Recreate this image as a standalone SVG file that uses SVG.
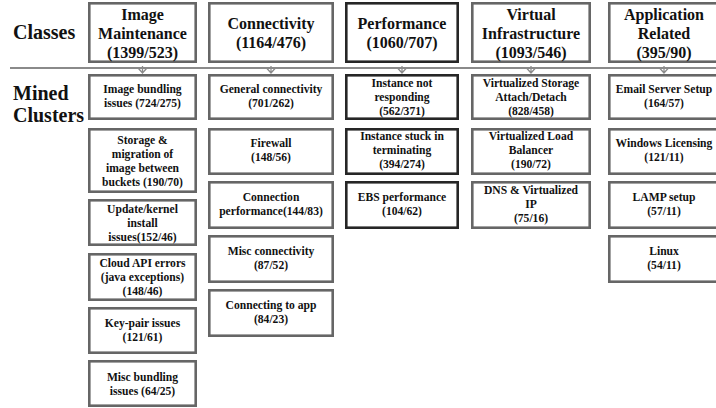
<svg xmlns="http://www.w3.org/2000/svg" width="716" height="408" viewBox="0 0 716 408">
<defs>
<style>
.bx{fill:#fff;stroke:#666;stroke-width:2.6}
.dk{fill:#fff;stroke:#262626;stroke-width:2.6}
.hd{font-family:"Liberation Serif","Times New Roman",serif;font-weight:bold;font-size:16px;fill:#111;text-anchor:middle}
.cl{font-family:"Liberation Serif","Times New Roman",serif;font-weight:bold;font-size:11.6px;fill:#111;text-anchor:middle}
.lb{font-family:"Liberation Serif","Times New Roman",serif;font-weight:bold;font-size:20px;fill:#111}
.ln{fill:none;stroke:#8a8a8a;stroke-width:1.8}
.ar{fill:none;stroke:#8a8a8a;stroke-width:1.3}
</style>
</defs>
<rect width="716" height="408" fill="#fff"/>
<g id="labels">
<text class="lb" x="13" y="39">Classes</text>
<text class="lb" x="13" y="100">Mined</text>
<text class="lb" x="13" y="122">Clusters</text>
</g>
<g id="connectors">
<line class="ln" x1="10" y1="68" x2="716" y2="68"/>
<path class="ar" d="M142.5,66V73M138.5,68.5L142.5,73L146.5,68.5"/>
<path class="ar" d="M271,66V73M267,68.5L271,73L275,68.5"/>
<path class="ar" d="M402,66V73M398,68.5L402,73L406,68.5"/>
<path class="ar" d="M531,66V73M527,68.5L531,73L535,68.5"/>
<path class="ar" d="M664,66V73M660,68.5L664,73L668,68.5"/>
</g>
<g id="class-image-maintenance">
<rect class="bx" x="89.3" y="3.3" width="106.4" height="58.4"/>
<text class="hd" x="142.5" y="20">Image</text>
<text class="hd" x="142.5" y="39">Maintenance</text>
<text class="hd" x="142.5" y="58">(1399/523)</text>
</g>
<g id="class-connectivity">
<rect class="bx" x="209.3" y="3.3" width="123.4" height="58.4"/>
<text class="hd" x="271" y="28.5">Connectivity</text>
<text class="hd" x="271" y="47.5">(1164/476)</text>
</g>
<g id="class-performance">
<rect class="dk" x="346.3" y="3.3" width="111.4" height="58.4"/>
<text class="hd" x="402" y="28.5">Performance</text>
<text class="hd" x="402" y="47.5">(1060/707)</text>
</g>
<g id="class-virtual-infrastructure">
<rect class="bx" x="472.3" y="3.3" width="117.4" height="58.4"/>
<text class="hd" x="531" y="20">Virtual</text>
<text class="hd" x="531" y="39">Infrastructure</text>
<text class="hd" x="531" y="58">(1093/546)</text>
</g>
<g id="class-application-related">
<rect class="bx" x="609.3" y="3.3" width="112" height="58.4"/>
<text class="hd" x="664" y="20">Application</text>
<text class="hd" x="664" y="39">Related</text>
<text class="hd" x="664" y="58">(395/90)</text>
</g>
<g id="c1-image-bundling">
<rect class="bx" x="89.3" y="75.3" width="106.4" height="43.4"/>
<text class="cl" x="142.5" y="93">Image bundling</text>
<text class="cl" x="142.5" y="107">issues (724/275)</text>
</g>
<g id="c1-storage-migration">
<rect class="bx" x="89.3" y="129.3" width="106.4" height="62.4"/>
<text class="cl" x="142.5" y="143.5">Storage &amp;</text>
<text class="cl" x="142.5" y="157.5">migration of</text>
<text class="cl" x="142.5" y="171.5">image between</text>
<text class="cl" x="142.5" y="185.5">buckets (190/70)</text>
</g>
<g id="c1-update-kernel">
<rect class="bx" x="89.3" y="200.3" width="106.4" height="44.4"/>
<text class="cl" x="142.5" y="212.5">Update/kernel</text>
<text class="cl" x="142.5" y="226.5">install</text>
<text class="cl" x="142.5" y="240.5">issues(152/46)</text>
</g>
<g id="c1-cloud-api">
<rect class="bx" x="89.3" y="254.3" width="106.4" height="45.4"/>
<text class="cl" x="142.5" y="267">Cloud API errors</text>
<text class="cl" x="142.5" y="281">(java exceptions)</text>
<text class="cl" x="142.5" y="295">(148/46)</text>
</g>
<g id="c1-key-pair">
<rect class="bx" x="89.3" y="308.3" width="106.4" height="44.4"/>
<text class="cl" x="142.5" y="327">Key-pair issues</text>
<text class="cl" x="142.5" y="341">(121/61)</text>
</g>
<g id="c1-misc-bundling">
<rect class="bx" x="89.3" y="361.3" width="106.4" height="44.4"/>
<text class="cl" x="142.5" y="381">Misc bundling</text>
<text class="cl" x="142.5" y="395">issues (64/25)</text>
</g>
<g id="c2-general">
<rect class="bx" x="209.3" y="75.3" width="123.4" height="43.4"/>
<text class="cl" x="271" y="93">General connectivity</text>
<text class="cl" x="271" y="107">(701/262)</text>
</g>
<g id="c2-firewall">
<rect class="bx" x="209.3" y="129.3" width="123.4" height="44.4"/>
<text class="cl" x="271" y="147">Firewall</text>
<text class="cl" x="271" y="161">(148/56)</text>
</g>
<g id="c2-connection-performance">
<rect class="bx" x="209.3" y="182.3" width="123.4" height="45.4"/>
<text class="cl" x="271" y="201">Connection</text>
<text class="cl" x="271" y="215">performance(144/83)</text>
</g>
<g id="c2-misc">
<rect class="bx" x="209.3" y="236.3" width="123.4" height="45.4"/>
<text class="cl" x="271" y="255">Misc connectivity</text>
<text class="cl" x="271" y="269">(87/52)</text>
</g>
<g id="c2-connecting-app">
<rect class="bx" x="209.3" y="290.3" width="123.4" height="45.4"/>
<text class="cl" x="271" y="309">Connecting to app</text>
<text class="cl" x="271" y="323">(84/23)</text>
</g>
<g id="c3-not-responding">
<rect class="dk" x="346.3" y="75.3" width="111.4" height="43.4"/>
<text class="cl" x="402" y="87">Instance not</text>
<text class="cl" x="402" y="101">responding</text>
<text class="cl" x="402" y="115">(562/371)</text>
</g>
<g id="c3-stuck-terminating">
<rect class="dk" x="346.3" y="129.3" width="111.4" height="44.4"/>
<text class="cl" x="402" y="140">Instance stuck in</text>
<text class="cl" x="402" y="154">terminating</text>
<text class="cl" x="402" y="168">(394/274)</text>
</g>
<g id="c3-ebs">
<rect class="dk" x="346.3" y="182.3" width="111.4" height="45.4"/>
<text class="cl" x="402" y="201">EBS performance</text>
<text class="cl" x="402" y="215">(104/62)</text>
</g>
<g id="c4-storage-attach">
<rect class="bx" x="472.3" y="75.3" width="117.4" height="43.4"/>
<text class="cl" x="531" y="87">Virtualized Storage</text>
<text class="cl" x="531" y="101">Attach/Detach</text>
<text class="cl" x="531" y="115">(828/458)</text>
</g>
<g id="c4-load-balancer">
<rect class="bx" x="472.3" y="129.3" width="117.4" height="44.4"/>
<text class="cl" x="531" y="140">Virtualized Load</text>
<text class="cl" x="531" y="154">Balancer</text>
<text class="cl" x="531" y="168">(190/72)</text>
</g>
<g id="c4-dns-ip">
<rect class="bx" x="472.3" y="182.3" width="117.4" height="45.4"/>
<text class="cl" x="531" y="194">DNS &amp; Virtualized</text>
<text class="cl" x="531" y="208">IP</text>
<text class="cl" x="531" y="222">(75/16)</text>
</g>
<g id="c5-email">
<rect class="bx" x="609.3" y="75.3" width="112" height="43.4"/>
<text class="cl" x="664" y="93">Email Server Setup</text>
<text class="cl" x="664" y="107">(164/57)</text>
</g>
<g id="c5-windows">
<rect class="bx" x="609.3" y="129.3" width="112" height="44.4"/>
<text class="cl" x="664" y="147">Windows Licensing</text>
<text class="cl" x="664" y="161">(121/11)</text>
</g>
<g id="c5-lamp">
<rect class="bx" x="609.3" y="182.3" width="112" height="45.4"/>
<text class="cl" x="664" y="201">LAMP setup</text>
<text class="cl" x="664" y="215">(57/11)</text>
</g>
<g id="c5-linux">
<rect class="bx" x="609.3" y="236.3" width="112" height="45.4"/>
<text class="cl" x="664" y="255">Linux</text>
<text class="cl" x="664" y="269">(54/11)</text>
</g>
</svg>
